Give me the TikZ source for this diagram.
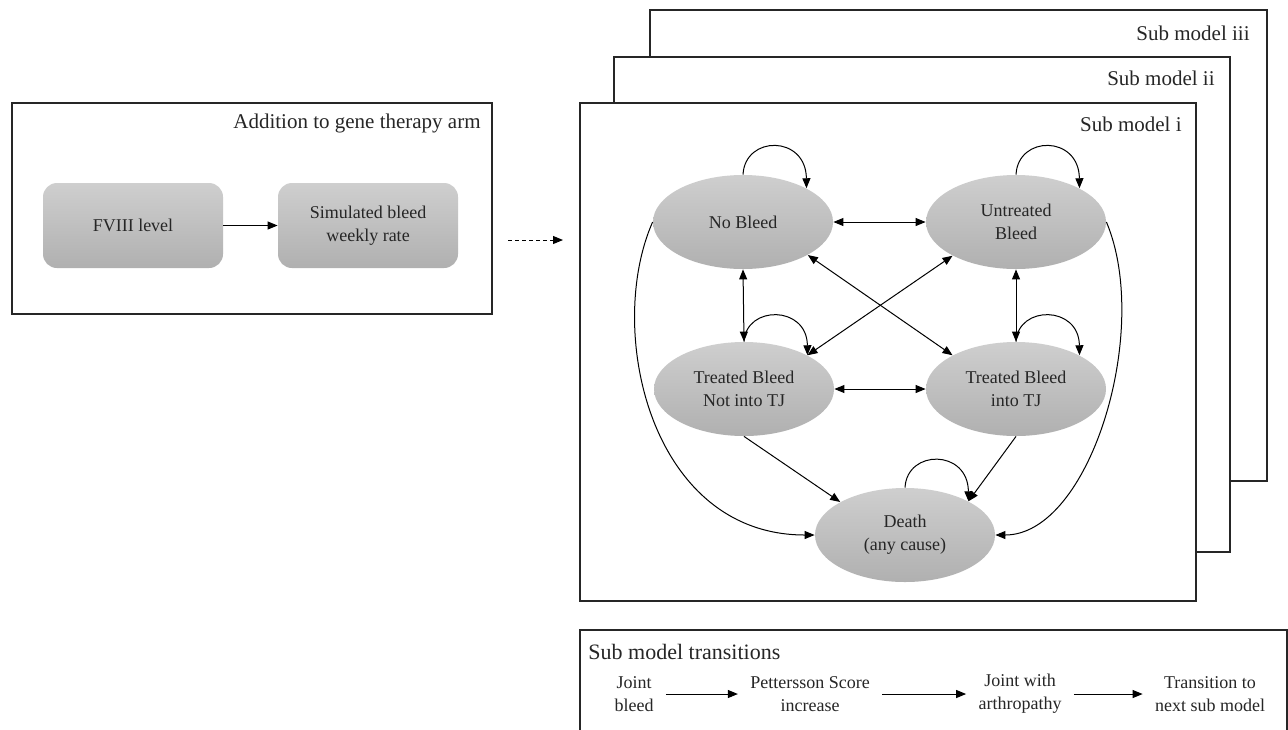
\documentclass[tikz,border=0pt]{standalone}
\usepackage{fontspec}
\setmainfont{Liberation Serif}
\usetikzlibrary{arrows.meta,shapes.geometric}
\begin{document}
\begin{tikzpicture}[x=0.5pt,y=-0.5pt,
  frame/.style={draw=black!85, line width=0.8pt, fill=white},
  state/.style={ellipse, shade, top color=gray!38, bottom color=gray!62,
    minimum width=90pt, minimum height=47pt, inner sep=0pt, align=center,
    font=\fontsize{9}{11.5}\selectfont, text=black!85},
  rbox/.style={rounded corners=7pt, shade, top color=gray!38, bottom color=gray!62,
    minimum width=90pt, minimum height=42.5pt, inner sep=0pt, align=center,
    font=\fontsize{9}{11.5}\selectfont, text=black!85},
  tnode/.style={align=center, inner xsep=6pt, inner ysep=0pt,
    font=\fontsize{9}{11.5}\selectfont, text=black!85},
  head/.style={font=\fontsize{10.5}{12}\selectfont, inner sep=0pt, text=black!85},
  arr/.style={-{Triangle[length=5pt,width=4pt]}, line width=0.5pt},
  darr/.style={{Triangle[length=5pt,width=4pt]}-{Triangle[length=5pt,width=4pt]}, line width=0.5pt}
]
\useasboundingbox (0,0) rectangle (1288,729);

% left box
\draw[frame] (12,103) rectangle (492,314);
\node[head, anchor=east] (addt) at (481,123) {Addition to gene therapy arm};
\node[rbox] (f8) at (133,225.5) {FVIII level};
\node[rbox] (sim) at (368,225.5) {Simulated bleed\\weekly rate};
\draw[arr] (f8) -- (sim);

% stacked sub model frames
\draw[frame] (650,10) rectangle (1267,481);
\node[head, anchor=east] (sm3) at (1250,33) {Sub model iii};
\draw[frame] (614,57) rectangle (1230,552);
\node[head, anchor=east] (sm2) at (1215,78) {Sub model ii};
\draw[frame] (580,103) rectangle (1196,601);
\node[head, anchor=east] (sm1) at (1182,124) {Sub model i};

\coordinate (dA) at (508,240);
\coordinate (dB) at (563,240);
\draw[arr, dashed, dash pattern=on 2pt off 1.5pt] (dA) -- (dB);

% states
\node[state] (nb) at (743,222) {No Bleed};
\node[state] (ub) at (1016,222) {Untreated\\Bleed};
\node[state] (nt) at (744,389) {Treated Bleed\\Not into TJ};
\node[state] (tj) at (1016,389) {Treated Bleed\\into TJ};
\node[state] (de) at (905,535) {Death\\(any cause)};

% self loops
\draw[arr] (nb.north) .. controls (745,135) and (806,135) .. (nb.28);
\draw[arr] (ub.north) .. controls (1018,135) and (1079,135) .. (ub.28);
\draw[arr] (nt.north) .. controls (746,305) and (807,305) .. (nt.28);
\draw[arr] (tj.north) .. controls (1018,305) and (1079,305) .. (tj.28);
\draw[arr] (de.north) .. controls (907,449) and (968,449) .. (de.28);

% double arrows
\draw[darr] (nb.east) -- (ub.west);
\draw[darr] (nt.east) -- (tj.west);
\draw[darr] (nb.south) -- (nt.north);
\draw[darr] (ub.south) -- (tj.north);
\draw[darr] (nb.-27) -- (tj.152);
\draw[darr] (ub.-152) -- (nt.28);

% to death
\draw[arr] (nt.south) -- (de.153);
\draw[arr] (tj.south) -- (de.28);
\draw[arr] (nb.west) .. controls (605,330) and (650,535) .. (de.west);
\draw[arr] (ub.east) .. controls (1152,330) and (1090,535) .. (de.east);

% transitions box
\draw[frame] (580,630) rectangle (1287,760);
\node[head, anchor=west, font=\fontsize{11}{13}\selectfont] (smt) at (588,652) {Sub model transitions};
\node[tnode] (j1) at (634,694) {Joint\\bleed};
\node[tnode] (p1) at (810,694) {Pettersson Score\\increase};
\node[tnode] (a1) at (1020,694) {Joint with\\arthropathy};
\node[tnode] (t1) at (1210,694) {Transition to\\next sub model};
\draw[arr] (j1) -- (p1);
\draw[arr] (p1) -- (a1);
\draw[arr] (a1) -- (t1);
\end{tikzpicture}
\end{document}
